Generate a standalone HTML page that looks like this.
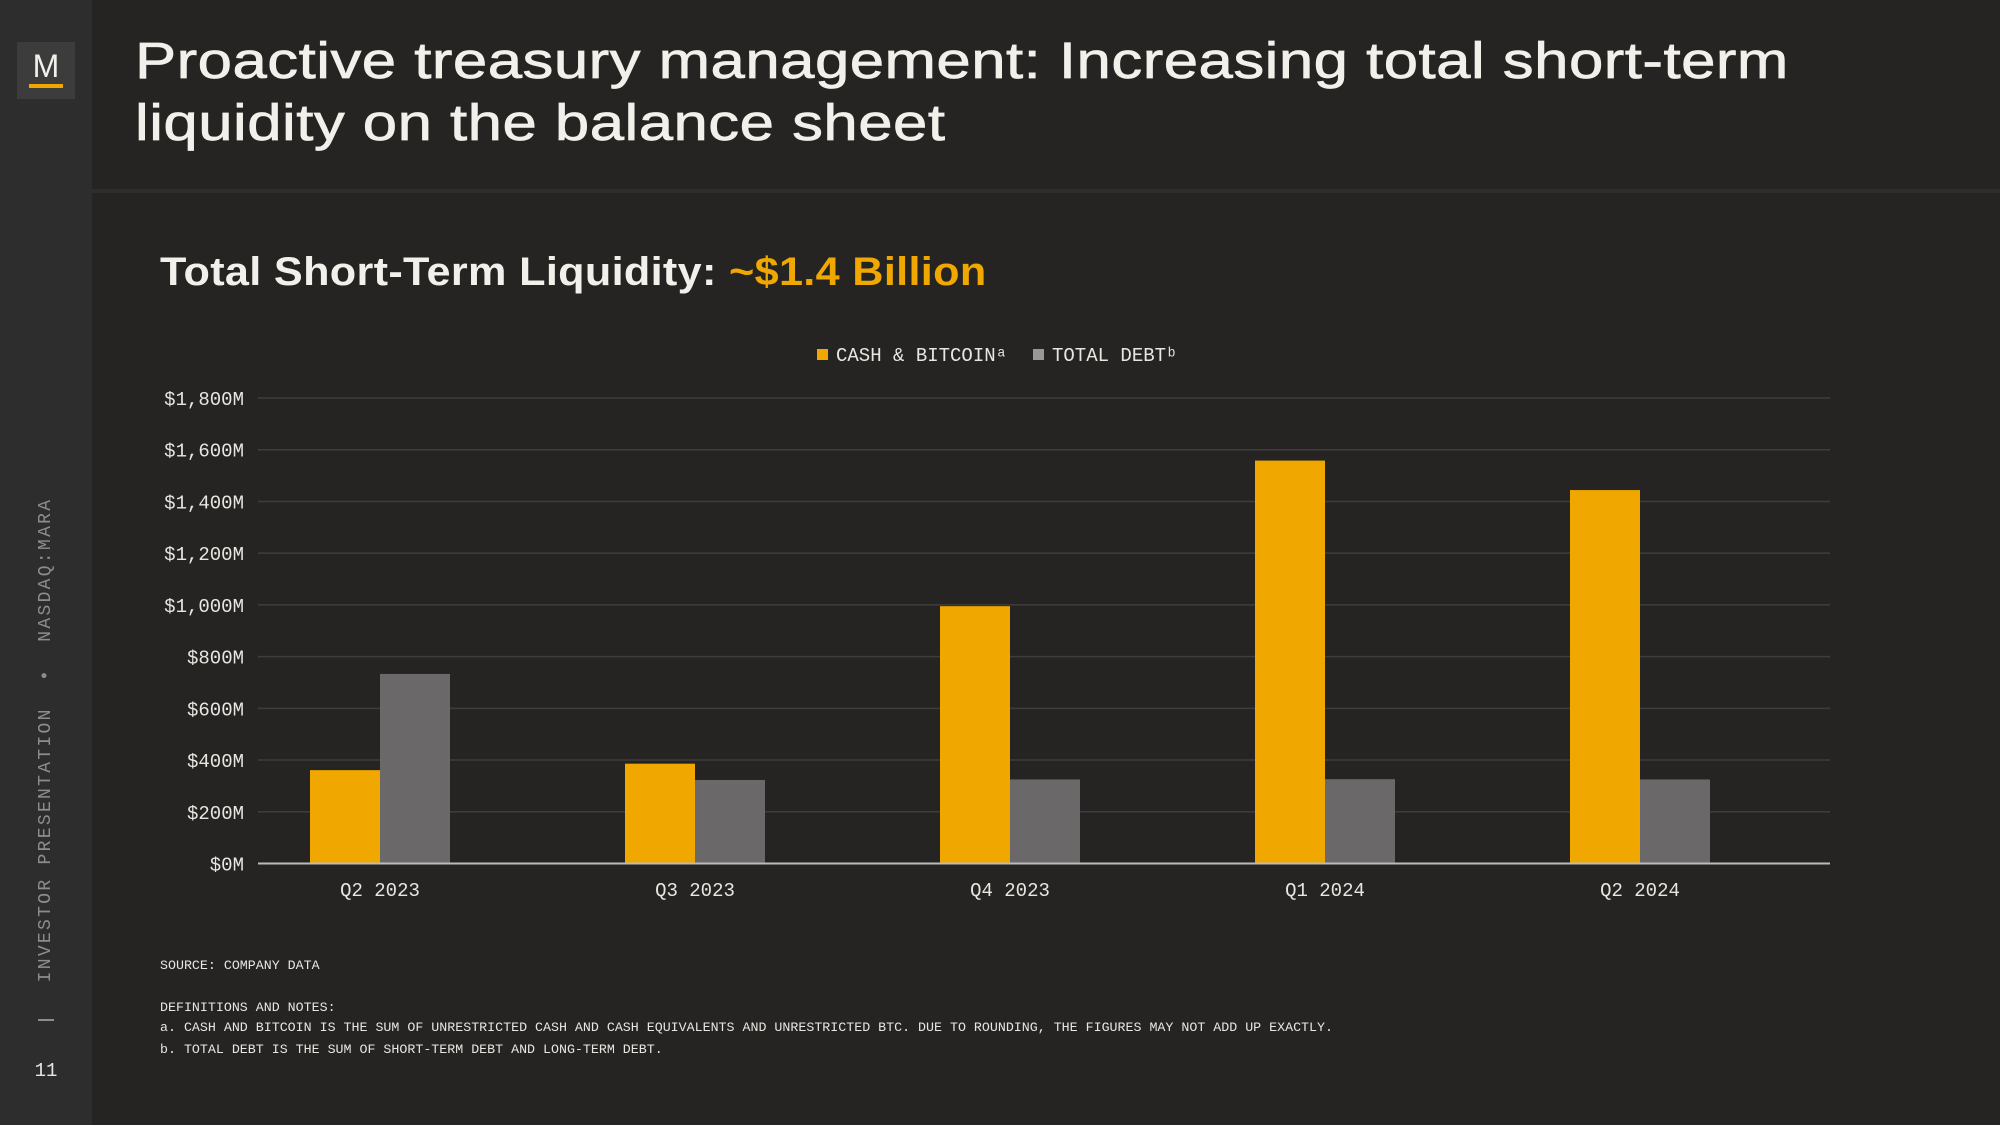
<!DOCTYPE html>
<html><head><meta charset="utf-8"><style>
body{margin:0;width:2000px;height:1125px;background:#252423;overflow:hidden;position:relative;font-family:"Liberation Sans",sans-serif;color:#f2f0ea}
.side{position:absolute;left:0;top:0;width:92px;height:1125px;background:#2e2d2d}
.logo{position:absolute;left:17px;top:42px;width:58px;height:57px;background:#3d3c3c}
.logo span{position:absolute;left:0;width:58px;top:6px;text-align:center;font-size:32px;color:#f2f0ea}
.logo i{position:absolute;left:12px;top:42px;width:34px;height:4px;background:#f0a800}
.vert{position:absolute;left:46px;top:740px;transform:translate(-50%,-50%) rotate(-90deg);white-space:nowrap;font-family:"Liberation Mono",monospace;font-size:18px;color:#8f8d8a;letter-spacing:2.3px}
.mono{font-family:"Liberation Mono",monospace}
h1{position:absolute;left:135px;top:30px;margin:0;font-size:51px;font-weight:normal;line-height:62px;letter-spacing:0.4px;-webkit-text-stroke:0.7px #f2f0ea;transform:scaleX(1.21);transform-origin:0 0;white-space:nowrap}
.hr{position:absolute;left:92px;right:0;top:189px;height:4px;background:#2e2d2d}
h2{position:absolute;left:160px;top:250px;margin:0;font-size:40px;font-weight:bold;letter-spacing:0.3px;transform:scaleX(1.08);transform-origin:0 0;white-space:nowrap}
.note{position:absolute;left:160px;font-family:"Liberation Mono",monospace;font-size:13.3px;color:#e8e6e0}
</style></head><body>
<div class="side">
<div class="logo"><span>M</span><i></i></div>
<div class="vert">INVESTOR PRESENTATION &nbsp;•&nbsp; NASDAQ:MARA</div>
<div style="position:absolute;left:38px;top:1019px;width:16px;height:2px;background:#8f8d8a"></div>
<div class="mono" style="position:absolute;left:0;width:92px;text-align:center;top:1060px;font-size:19px;color:#e8e6e0">11</div>
</div>
<h1>Proactive treasury management: Increasing total short-term<br>liquidity on the balance sheet</h1>
<div class="hr"></div>
<h2>Total Short-Term Liquidity: <span style="color:#f0a800">~$1.4 Billion</span></h2>
<svg id="chart" width="2000" height="1125" style="position:absolute;left:0;top:0"></svg>
<div class="note" style="top:958px">SOURCE: COMPANY DATA</div>
<div class="note" style="top:1000px">DEFINITIONS AND NOTES:</div>
<div class="note" style="top:1020px">a. CASH AND BITCOIN IS THE SUM OF UNRESTRICTED CASH AND CASH EQUIVALENTS AND UNRESTRICTED BTC. DUE TO ROUNDING, THE FIGURES MAY NOT ADD UP EXACTLY.</div>
<div class="note" style="top:1042px">b. TOTAL DEBT IS THE SUM OF SHORT-TERM DEBT AND LONG-TERM DEBT.</div>
<script>
const categories=["Q2 2023","Q3 2023","Q4 2023","Q1 2024","Q2 2024"];
const cashBitcoin=[361,386,995,1558,1444];
const totalDebt=[733,323,325,326,325];
const yTicks=[0,200,400,600,800,1000,1200,1400,1600,1800];
const yTickLabels=["$0M","$200M","$400M","$600M","$800M","$1,000M","$1,200M","$1,400M","$1,600M","$1,800M"];
const NS="http://www.w3.org/2000/svg";
const svg=document.getElementById("chart");
const X0=258,X1=1830,Y0=863.5,Y1=398,VMAX=1800;
const y=v=>Y0-(v/VMAX)*(Y0-Y1);
const cx=i=>380+i*315;
const BW=70;
function mk(t,a){const e=document.createElementNS(NS,t);for(const k in a)e.setAttribute(k,a[k]);svg.appendChild(e);return e;}
yTicks.forEach((v,i)=>{
 if(v>0){const g=mk("line",{x1:X0,x2:X1,y1:y(v),y2:y(v),stroke:"#3e3d3d","stroke-width":1.5});
 
 }
 const t=mk("text",{x:244,y:y(v)+7,"text-anchor":"end","font-family":"Liberation Mono, monospace","font-size":19,fill:"#e8e6e0"});
 t.textContent=yTickLabels[i];
 
 
});
categories.forEach((c,i)=>{
 const a=mk("rect",{x:cx(i)-BW,y:y(cashBitcoin[i]),width:BW,height:Y0-y(cashBitcoin[i]),fill:"#f0a800"});
 
 
 const b=mk("rect",{x:cx(i),y:y(totalDebt[i]),width:BW,height:Y0-y(totalDebt[i]),fill:"#6a6868"});
 
 
 const t=mk("text",{x:cx(i),y:896,"text-anchor":"middle","font-family":"Liberation Mono, monospace","font-size":19,fill:"#e8e6e0"});
 t.textContent=c;
 
 
});
const ax=mk("line",{x1:X0,x2:X1,y1:Y0,y2:Y0,stroke:"#bdbbb8","stroke-width":2});


const l1=mk("rect",{x:817,y:349,width:11,height:11,fill:"#f0a800"});


const lt1=mk("text",{x:836,y:361,"font-family":"Liberation Mono, monospace","font-size":19,fill:"#e8e6e0"});
lt1.textContent="CASH & BITCOINᵃ";


const l2=mk("rect",{x:1033,y:349,width:11,height:11,fill:"#9a9896"});


const lt2=mk("text",{x:1052,y:361,"font-family":"Liberation Mono, monospace","font-size":19,fill:"#e8e6e0"});
lt2.textContent="TOTAL DEBTᵇ";


</script>
</body></html>
